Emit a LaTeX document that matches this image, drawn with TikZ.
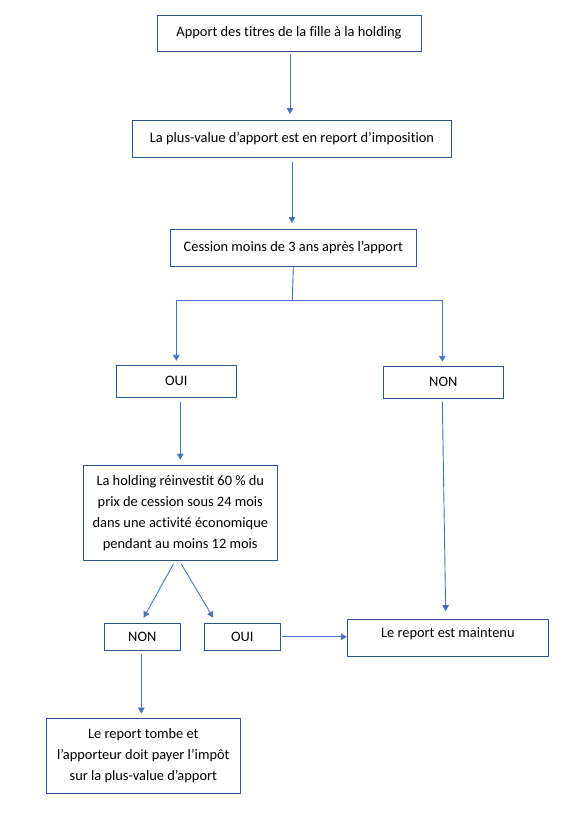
\documentclass[tikz,border=0pt]{standalone}
\usepackage{fontspec}
\setmainfont{Carlito}[Ligatures={TeX, NoCommon}]
\usepackage{tikz}
\usetikzlibrary{arrows.meta, positioning}
\definecolor{boxline}{HTML}{2F528F}
\definecolor{arrline}{HTML}{4472C4}

\begin{document}
\begin{tikzpicture}[x=1pt, y=-1pt,
		every node/.style={font=\fontsize{14.4}{21}\selectfont, align=center, inner sep=0pt},
		box/.style={draw=boxline, line width=1pt},
		arr/.style={draw=arrline, line width=0.9pt, -{Triangle[length=6pt, width=6.5pt]}}]
			\useasboundingbox (0,0) rectangle (566,817);
			\node[box, minimum width=264pt, minimum height=36pt] (apport) at (289,33) {Apport des titres de la fille à la holding};
			\node[box, minimum width=319pt, minimum height=37pt] (report) at (292,139) {La plus-value d’apport est en report d’imposition};
			\node[box, minimum width=246pt, minimum height=37pt] (cession) at (293.3,248) {Cession moins de 3 ans après l’apport};
			\node[box, minimum width=120pt, minimum height=32pt] (oui) at (176.3,381.3) {OUI};
			\node[box, minimum width=120pt, minimum height=32pt] (non) at (443.3,382.3) {NON};
			\node[box, minimum width=194pt, minimum height=95pt] (reinvest) at (180.3,512.7) {La holding réinvestit 60 \% du\\prix de cession sous 24 mois\\dans une activité économique\\pendant au moins 12 mois};
			\node[box, minimum width=76pt, minimum height=27pt] (non2) at (142.3,636.8) {NON};
			\node[box, minimum width=76pt, minimum height=27pt] (oui2) at (242.3,636.8) {OUI};
			\node[box, minimum width=201pt, minimum height=36.6pt, text depth=10pt] (maintenu) at (447.8,638) {Le report est maintenu};
			\node[box, minimum width=194pt, minimum height=74.6pt] (tombe) at (143.3,756) {Le report tombe et\\l’apporteur doit payer l’impôt\\sur la plus-value d’apport};
			\coordinate (split) at (292.3,300);
			\draw[arr, shorten <=2pt, shorten >=6pt] ([xshift=1pt]apport.south) -- ([xshift=1pt]apport.south |- report.north);
			\draw[arr, shorten <=4pt, shorten >=6pt] (report.south) -- (report.south |- cession.north);
			\draw[draw=arrline, line width=0.9pt] (cession.south) -- (split);
			\draw[arr, shorten >=4pt] (split) -| (oui.north);
			\draw[arr, shorten >=4pt] (split) -| ([xshift=-1pt]non.north);
			\draw[arr, shorten <=4pt, shorten >=5pt] (reinvest.north |- oui.south) -- (reinvest.north);
			\draw[arr, shorten <=3pt, shorten >=8pt] ([xshift=-1pt]non.south) -- ([xshift=-2pt]maintenu.north);
			\draw[arr, shorten <=4pt, shorten >=6pt] ([xshift=-5pt]reinvest.south) -- ([xshift=-1.5pt]non2.north);
			\draw[arr, shorten <=4pt, shorten >=6pt] ([xshift=-1pt]reinvest.south) -- ([xshift=-26pt]oui2.north);
			\draw[arr, shorten <=1pt] (oui2.east) -- (oui2.east -| maintenu.west);
			\draw[arr, shorten <=3pt, shorten >=4.5pt] ([xshift=-1pt]non2.south) -- ([xshift=-1pt]non2.south |- tombe.north);
		\end{tikzpicture}
\end{document}
